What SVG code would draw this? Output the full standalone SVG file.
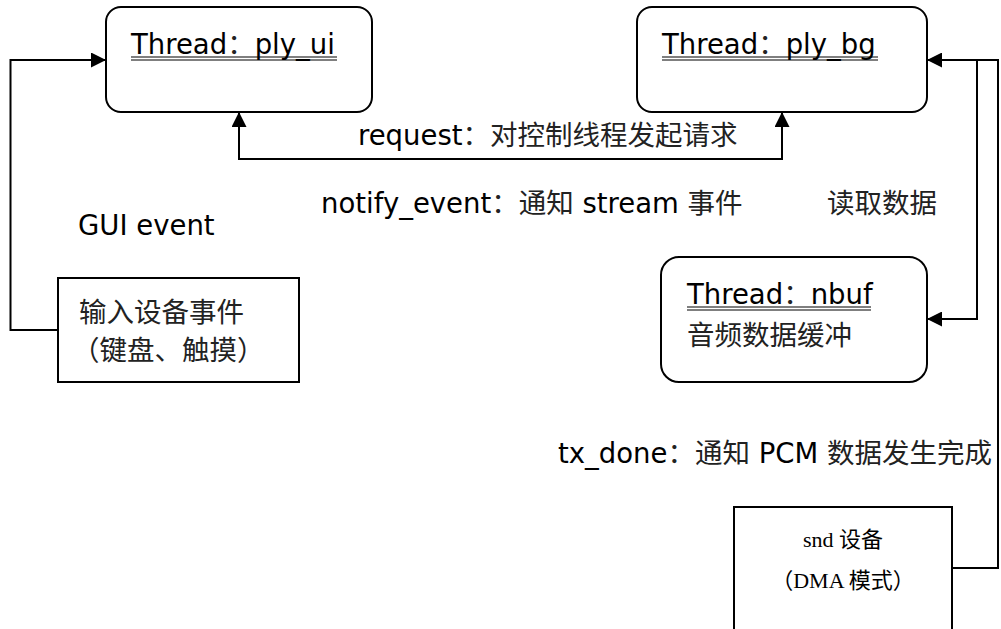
<svg xmlns="http://www.w3.org/2000/svg" width="1001" height="629" viewBox="0 0 1001 629">
  <style>
    .box { fill: #fff; stroke: #000; stroke-width: 2; }
    .t { font-family: "DejaVu Sans", Verdana, "Noto Sans CJK SC", sans-serif; font-size: 27.5px; fill: #000; }
    .cjk { font-family: "Noto Sans CJK SC", sans-serif; font-size: 27.5px; fill: #222; }
    .serif { font-family: "Liberation Serif", "Noto Sans CJK SC", serif; font-size: 22px; fill: #000; text-anchor: middle; }
    .ul { stroke: #000; stroke-width: 1.2; }
    .link { fill: none; stroke: #000; stroke-width: 2; }
  </style>
  <defs>
    <marker id="arrow" viewBox="0 0 15 15" refX="15" refY="7.5" markerWidth="15" markerHeight="15" markerUnits="userSpaceOnUse" orient="auto-start-reverse">
      <path d="M0,0 L15,7.5 L0,15 z" fill="#000"/>
    </marker>
  </defs>
  <rect width="1001" height="629" fill="#fff"/>

  <!-- UI thread -->
  <g id="ply_ui">
    <rect class="box" x="106" y="7" width="266" height="105" rx="15"/>
    <text class="t" x="131" y="54">Thread<tspan class="cjk">：</tspan>ply_ui</text>
    <line class="ul" x1="131" y1="57" x2="337" y2="57"/>
    <line class="ul" x1="131" y1="60" x2="337" y2="60"/>
  </g>

  <!-- background thread -->
  <g id="ply_bg">
    <rect class="box" x="637" y="7" width="290" height="105" rx="15"/>
    <text class="t" x="662" y="54">Thread<tspan class="cjk">：</tspan>ply_bg</text>
    <line class="ul" x1="662" y1="57" x2="878" y2="57"/>
    <line class="ul" x1="662" y1="60" x2="878" y2="60"/>
  </g>

  <!-- buffer thread -->
  <g id="nbuf">
    <rect class="box" x="661" y="257" width="266" height="125" rx="18"/>
    <text class="t" x="687" y="304">Thread<tspan class="cjk">：</tspan>nbuf</text>
    <line class="ul" x1="687" y1="307" x2="871" y2="307"/>
    <line class="ul" x1="687" y1="310" x2="871" y2="310"/>
    <text class="cjk" x="687" y="345">音频数据缓冲</text>
  </g>

  <!-- input device -->
  <g id="input_dev">
    <rect class="box" x="58" y="278" width="241" height="104"/>
    <text class="cjk" x="79" y="322">输入设备事件</text>
    <text class="cjk" x="72" y="360">（键盘、触摸）</text>
  </g>

  <!-- sound device -->
  <g id="snd_dev">
    <rect class="box" x="734" y="507" width="218" height="140"/>
    <text class="serif" x="843" y="547">snd 设备</text>
    <text class="serif" x="843" y="588">（DMA 模式）</text>
  </g>

  <!-- connectors and their labels -->
  <g id="connectors">
    <text class="t" x="78" y="235">GUI event</text>
    <text class="t" x="358" y="145">request<tspan class="cjk">：对控制线程发起请求</tspan></text>
    <text class="t" x="321" y="213">notify_event<tspan class="cjk">：通知</tspan> stream <tspan class="cjk">事件</tspan></text>
    <text class="cjk" x="827" y="213">读取数据</text>
    <text class="t" x="558" y="463">tx_done<tspan class="cjk">：通知</tspan> PCM <tspan class="cjk">数据发生完成</tspan></text>

    <path class="link" d="M58,330 H10.5 V60 H106" marker-end="url(#arrow)"/>
    <path class="link" d="M239,112 V159 H782 V112" marker-start="url(#arrow)" marker-end="url(#arrow)"/>
    <path class="link" d="M952,568 H998 V60 H927" marker-end="url(#arrow)"/>
    <path class="link" d="M977,60 V319 H927" marker-end="url(#arrow)"/>
  </g>
</svg>
